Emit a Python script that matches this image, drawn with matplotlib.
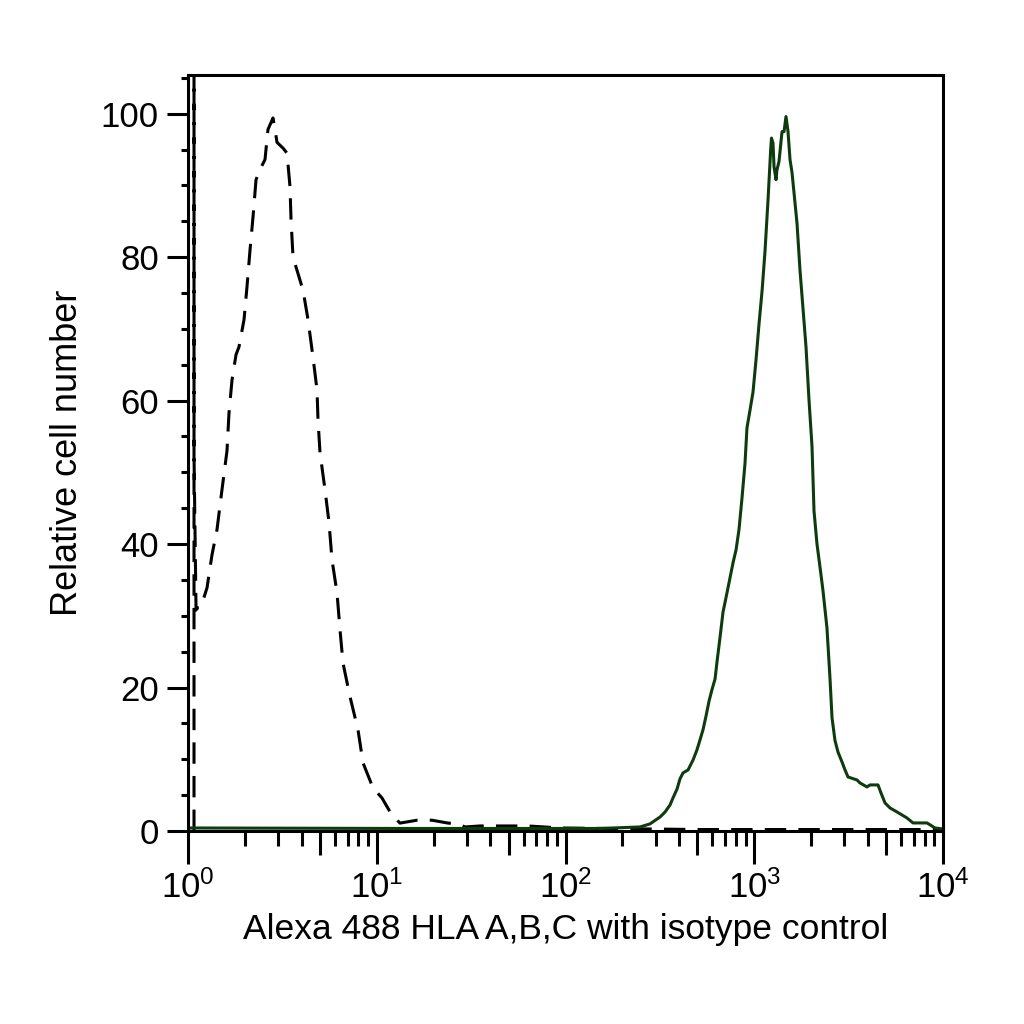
import numpy as np
import matplotlib.pyplot as plt
from matplotlib.ticker import FixedLocator, FuncFormatter, MultipleLocator, NullFormatter, NullLocator

plt.rcParams['font.family'] = ['Liberation Sans', 'DejaVu Sans']
plt.rcParams['mathtext.fontset'] = 'custom'
plt.rcParams['mathtext.rm'] = 'Liberation Sans'
plt.rcParams['mathtext.it'] = 'Liberation Sans:italic'
plt.rcParams['mathtext.bf'] = 'Liberation Sans:bold'

# Alexa 488 HLA A,B,C stained cells (solid)
hla_x = [1.0, 13.3, 152, 248, 280, 317, 337, 358, 371, 390, 404, 419, 446, 474,
         497, 516, 535, 555, 576, 597, 620, 635, 658, 683, 717, 744, 772, 801,
         830, 861, 893, 915, 950, 985, 1022, 1060, 1100, 1140, 1183, 1222, 1234,
         1257, 1273, 1304, 1320, 1352, 1403, 1438, 1473, 1510, 1547, 1585, 1624,
         1685, 1747, 1813, 1880, 1951, 2023, 2073, 2150, 2230, 2313, 2428, 2519,
         2582, 2678, 2778, 2917, 3026, 3139, 3503, 3634, 3958, 4105, 4525, 4694,
         4929, 5239, 5706, 6447, 6937, 8228, 9070, 10000]
hla_y = [0.42, 0.35, 0.35, 0.56, 0.98, 1.95, 2.65, 3.63, 4.6, 5.86, 7.25, 8.09,
         8.51, 9.9, 11.3, 12.7, 14.1, 16.0, 18.1, 19.7, 21.2, 23.6, 26.9, 30.5,
         33.2, 35.3, 37.4, 39.2, 42.0, 46.4, 51.2, 56.2, 58.7, 61.2, 65.7, 70.7,
         75.3, 80.8, 88.0, 95.0, 96.6, 95.9, 92.6, 90.8, 92.2, 93.3, 97.5, 97.5,
         99.6, 97.5, 93.6, 91.8, 89.0, 84.7, 78.2, 72.8, 67.5, 60.0, 53.6, 44.6,
         40.0, 36.8, 33.5, 28.3, 21.3, 15.8, 12.6, 11.0, 9.62, 8.51, 7.53, 7.11,
         6.69, 6.14, 6.42, 6.42, 5.3, 3.91, 3.21, 2.65, 1.81, 1.12, 1.12, 0.42, 0.28]

# isotype control (dashed)
iso_x = [1.076, 1.076, 1.076, 1.103, 1.116, 1.158, 1.186, 1.261, 1.340, 1.424,
         1.514, 1.609, 1.649, 1.711, 1.796, 1.863, 1.981, 2.054, 2.131, 2.210,
         2.293, 2.437, 2.558, 2.653, 2.820, 2.890, 2.962, 3.187, 3.346, 3.471,
         3.514, 3.601, 4.067, 4.323, 4.596, 4.825, 4.884, 5.005, 5.318, 5.585,
         5.794, 6.158, 6.389, 6.626, 7.218, 7.956, 8.456, 9.552, 10.66, 12.04,
         13.28, 16.34, 19.62, 23.85, 26.95, 29.35, 35.24, 63.3, 93.5, 516, 10000]
iso_y = [0, 115, 52.4, 30.8, 31.1, 31.1, 31.7, 33.9, 38.5, 42.0, 47.6, 53.0,
         58.3, 62.9, 66.4, 67.5, 71.3, 75.9, 81.0, 85.6, 90.8, 92.5, 93.6, 97.8,
         99.4, 97.8, 96.0, 95.2, 94.5, 89.8, 85.2, 80.0, 75.4, 71.3, 66.0, 61.5,
         57.3, 52.7, 47.6, 43.0, 37.8, 33.2, 28.0, 23.4, 18.7, 14.1, 9.5, 6.0,
         4.6, 2.2, 1.1, 1.5, 1.5, 1.1, 1.0, 0.56, 0.7, 0.7, 0.42, 0.2, 0.2]

fig = plt.figure(figsize=(10.24, 10.24), dpi=100)
ax = fig.add_axes([0.1836, 0.1885, 0.7373, 0.7383])

ax.plot(iso_x, iso_y, color='black', lw=2.2, ls=(0, (7, 4)))
ax.plot(hla_x, hla_y, color='#0d3b0d', lw=2.2)

ax.set_xscale('log')
ax.set_xlim(1, 1e4)
ax.set_ylim(0, 105.4)

for s in ax.spines.values():
    s.set_linewidth(2.2)

decades = [1, 10, 100, 1000, 10000]
ax.xaxis.set_major_locator(FixedLocator(decades))
ax.xaxis.set_major_formatter(FuncFormatter(lambda v, p: r'$\mathregular{10^{%d}}$' % round(np.log10(v))))
minor = [m * d for d in decades[:-1] for m in (2, 3, 4, 6, 7, 8, 9)]
ax.xaxis.set_minor_locator(FixedLocator(minor))
ax.xaxis.set_minor_formatter(NullFormatter())

ax.yaxis.set_major_locator(MultipleLocator(20))
ax.yaxis.set_minor_locator(MultipleLocator(5))

ax.tick_params(axis='x', which='major', length=24, width=2.2, labelsize=25, pad=4)
ax.tick_params(axis='x', which='minor', length=11, width=2.2)
ax.tick_params(axis='y', which='major', length=15, width=2.2, labelsize=25, pad=6)
ax.tick_params(axis='y', which='minor', length=5, width=2.2)

# the "5" ticks of every decade are a little longer
sec = ax.secondary_xaxis('bottom')
sec.xaxis.set_major_locator(FixedLocator([5, 50, 500, 5000]))
sec.xaxis.set_major_formatter(NullFormatter())
sec.xaxis.set_minor_locator(NullLocator())
sec.tick_params(length=17, width=2.2)
sec.spines['bottom'].set_visible(False)

ax.set_xlabel('Alexa 488 HLA A,B,C with isotype control', fontsize=25.5, labelpad=6)
ax.set_ylabel('Relative cell number', fontsize=26, labelpad=11)

fig.savefig('out.png', dpi=100, facecolor='white')
